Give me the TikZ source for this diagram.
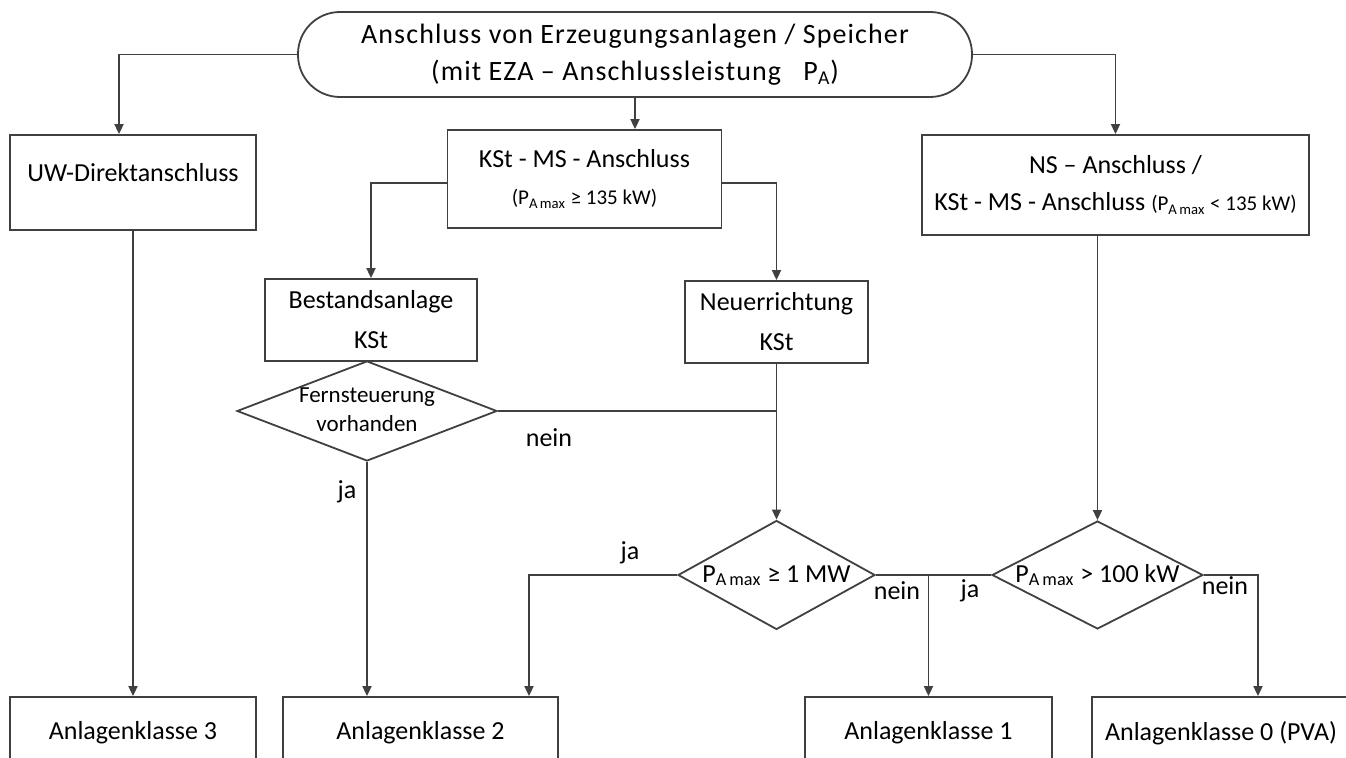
\documentclass[tikz,border=0pt]{standalone}
\usepackage{fontspec}
\setmainfont{Carlito}
\usepackage{tikz}
\usetikzlibrary{shapes.geometric,arrows.meta}

\newcommand{\Pmax}{P\textsubscript{A\,max}}
\newcommand{\flattext}[1]{\smash{\makebox[0pt]{\raisebox{-3pt}{\begin{tabular}{@{}c@{}}#1\end{tabular}}}}}

\begin{document}
\begin{tikzpicture}[x=0.5pt,y=-0.5pt,
    every node/.style={font=\fontsize{13}{18.5}\selectfont},
    box/.style={draw=black!75, line width=0.9pt, rectangle, align=center, inner sep=0pt, fill=white},
    dia/.style={draw=black!75, line width=0.9pt, diamond, inner sep=0pt, fill=white},
    link/.style={draw=black!75, line width=0.9pt},
    arr/.style={link, -{Triangle[length=5pt,width=4.5pt]}}]
      \useasboundingbox (0,0) rectangle (1346,758);

      % Anschluss
      \node (start) at (635,54.5) [box, rounded corners=21pt, minimum width=337pt, minimum height=42.5pt,
        font=\fontsize{14}{18.5}\selectfont\addfontfeatures{LetterSpace=4}]
        {Anschluss von Erzeugungsanlagen / Speicher\\(mit EZA – Anschlussleistung~~~P\textsubscript{A})};

      \node (uw) at (133,182.5) [box, minimum width=123pt, minimum height=47.5pt] {\raisebox{10pt}{UW-Direktanschluss}};
      \node (kst) at (584.5,179) [box, minimum width=137pt, minimum height=49pt]
        {KSt - MS - Anschluss\\{\fontsize{10.5}{14}\selectfont(\Pmax{} ≥ 135 kW)}};
      \node (ns) at (1115.5,185) [box, minimum width=193.5pt, minimum height=50pt]
        {NS – Anschluss /\\KSt - MS - Anschluss {\fontsize{10.5}{14}\selectfont(\Pmax{} < 135 kW)}};

      % KSt
      \node (best) at (371,320) [box, minimum width=106pt, minimum height=41pt, font=\fontsize{13}{20}\selectfont] {Bestandsanlage\\KSt};
      \node (neu) at (776.5,322) [box, minimum width=91.5pt, minimum height=41pt, font=\fontsize{13}{20}\selectfont] {Neuerrichtung\\KSt};

      % Abfragen
      \node (fern) at (367,411) [dia, minimum width=130pt, minimum height=50pt, font=\fontsize{11.5}{14.5}\selectfont]
        {\flattext{Fernsteuerung\\vorhanden}};
      \node (mw) at (776.5,575) [dia, minimum width=98.5pt, minimum height=54.5pt] {\flattext{\Pmax{} ≥ 1 MW}};
      \node (kw) at (1097.5,575) [dia, minimum width=105.5pt, minimum height=54pt] {\flattext{\Pmax{} > 100 kW}};

      % Anlagenklassen
      \node (k3) at (133,733) [box, minimum width=123pt, minimum height=36pt] {Anlagenklasse 3};
      \node (k2) at (420.5,733) [box, minimum width=137.5pt, minimum height=36pt] {Anlagenklasse 2};
      \node (k1) at (928.5,733) [box, minimum width=123.5pt, minimum height=36pt] {Anlagenklasse 1};
      \node (k0) at (1221,733) [box, minimum width=129pt, minimum height=36pt] {Anlagenklasse 0 (PVA)};

      \draw[arr] (start.west) -| ([xshift=-7pt]uw.north);
      \draw[arr] (start.south) to (start.south |- kst.north);
      \draw[arr] (start.east) -| (ns.north);
      \draw[arr] ([yshift=-2pt]kst.west) -| (best.north);
      \draw[arr] ([yshift=-2pt]kst.east) -| (neu.north);
      \draw[arr] (uw.south) to (uw.south |- k3.north);
      \draw[arr] (fern.south) to (fern.south |- k2.north);
      \draw[link] (fern.east) to (fern.east -| neu.south);
      \draw[arr] (neu.south) to (mw.north);
      \draw[arr] (mw.west) -| ([xshift=54.25pt]k2.north);
      \draw[link] (mw.east) to (kw.west);
      \draw[arr] (mw.east -| k1.north) to (k1.north);
      \draw[arr] (kw.north |- ns.south) to (kw.north);
      \draw[arr] (kw.east) -| ([xshift=18.5pt]k0.north);

      \node (ja1) at (347,492) {ja};
      \node (nein1) at (549,438) {nein};
      \node (ja2) at (630,553) {ja};
      \node (nein2) at (897,591) {nein};
      \node (ja3) at (970,591) {ja};
      \node (nein3) at (1225,586) {nein};
\end{tikzpicture}
\end{document}
